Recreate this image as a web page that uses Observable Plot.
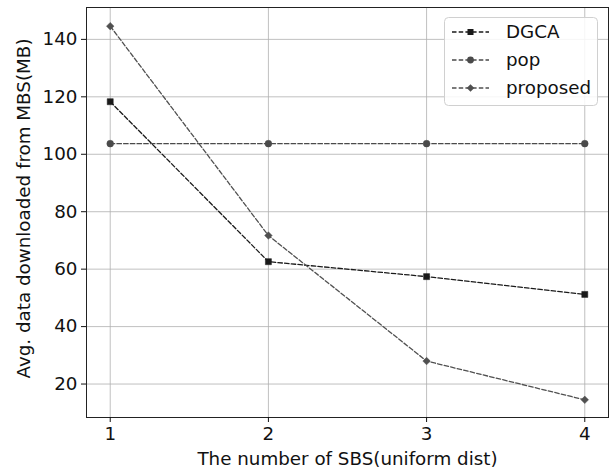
<!DOCTYPE html>
<html>
<head>
<meta charset="utf-8">
<script src="https://cdn.jsdelivr.net/npm/d3@7"></script>
<script src="https://cdn.jsdelivr.net/npm/@observablehq/plot@0.6"></script>
<style>
  html, body { margin: 0; padding: 0; background: #fff; }
  #wrap { position: relative; width: 612px; height: 476px; font-family: "DejaVu Sans", sans-serif; }
  #legend { position: absolute; left: 444px; top: 17px; }
</style>
</head>
<body>
<div id="wrap"></div>
<script>
const xValues = [1, 2, 3, 4];
const seriesNames = ["DGCA", "pop", "proposed"];
const dgca = [118.3, 62.6, 57.4, 51.2];
const pop = [103.7, 103.7, 103.7, 103.7];
const proposed = [144.6, 71.7, 28.0, 14.5];
const seriesColors = ["#1a1a1a", "#4a4a4a", "#505050"];
const seriesSymbols = ["square", "circle", "diamond2"];
const xTicks = [1, 2, 3, 4];
const yTicks = [20, 40, 60, 80, 100, 120, 140];
const xLabel = "The number of SBS(uniform dist)";
const yLabel = "Avg. data downloaded from MBS(MB)";

const seriesValues = [dgca, pop, proposed];
const rows = [];
seriesNames.forEach((name, i) => {
  xValues.forEach((x, j) => rows.push({series: name, x, y: seriesValues[i][j]}));
});

const colorScale = {domain: seriesNames, range: seriesColors};
const symbolScale = {domain: seriesNames, range: seriesSymbols};
const fs = 18.3;
const dash = "4.5,2.2";

const chart = Plot.plot({
  width: 612,
  height: 476,
  marginLeft: 86,
  marginRight: 4,
  marginTop: 7,
  marginBottom: 59,
  style: {fontFamily: "DejaVu Sans", fontSize: fs + "px", color: "#111", background: "transparent"},
  x: {domain: [0.85, 4.15]},
  y: {domain: [8.35, 151.1]},
  color: colorScale,
  symbol: symbolScale,
  marks: [
    Plot.gridX(xTicks, {stroke: "#b0b0b0", strokeOpacity: 1, strokeWidth: 0.8}),
    Plot.gridY(yTicks, {stroke: "#b0b0b0", strokeOpacity: 1, strokeWidth: 0.8}),
    Plot.line(rows, {x: "x", y: "y", z: "series", stroke: "series", strokeWidth: 1.3, strokeDasharray: dash}),
    Plot.dot(rows, {x: "x", y: "y", symbol: "series", fill: "series", stroke: "series", strokeWidth: 0.5, r: 3.4}),
    Plot.frame({stroke: "#222", strokeWidth: 1}),
    Plot.axisX({ticks: xTicks, tickFormat: d => String(d), tickSize: 5, tickPadding: 4, fontSize: fs, label: null}),
    Plot.axisY({ticks: yTicks, tickFormat: d => String(d), tickSize: 5, tickPadding: 4, fontSize: fs, label: null}),
    Plot.text([xLabel], {frameAnchor: "bottom", dy: 47, fontSize: fs, fill: "#111"}),
    Plot.text([yLabel], {frameAnchor: "left", textAnchor: "middle", dx: -62, dy: -4, rotate: -90, fontSize: fs, fill: "#111"})
  ]
});

const wrap = document.getElementById("wrap");
wrap.appendChild(chart);

// Legend overlay
const lw = 154, lh = 89;
const legend = d3.select(wrap).append("div").attr("id", "legend")
  .append("svg").attr("width", lw).attr("height", lh)
  .style("font-family", "DejaVu Sans").style("font-size", fs + "px");
legend.append("rect").attr("x", 0.5).attr("y", 0.5).attr("width", lw - 1).attr("height", lh - 1)
  .attr("rx", 4).attr("fill", "rgba(255,255,255,0.85)").attr("stroke", "#d0d0d0");
const symGen = {square: d3.symbolSquare, circle: d3.symbolCircle, diamond2: d3.symbolDiamond2};
seriesNames.forEach((name, i) => {
  const cy = 15 + i * 28;
  const g = legend.append("g");
  g.append("line").attr("x1", 8).attr("x2", 45).attr("y1", cy).attr("y2", cy)
    .attr("stroke", seriesColors[i]).attr("stroke-width", 1.3).attr("stroke-dasharray", dash);
  g.append("path").attr("transform", `translate(26.5,${cy})`)
    .attr("d", d3.symbol(symGen[seriesSymbols[i]], 3.4 * 3.4 * Math.PI)())
    .attr("fill", seriesColors[i]);
  g.append("text").attr("x", 62).attr("y", cy).attr("dy", "0.35em").attr("fill", "#111").text(name);
});
</script>
</body>
</html>
